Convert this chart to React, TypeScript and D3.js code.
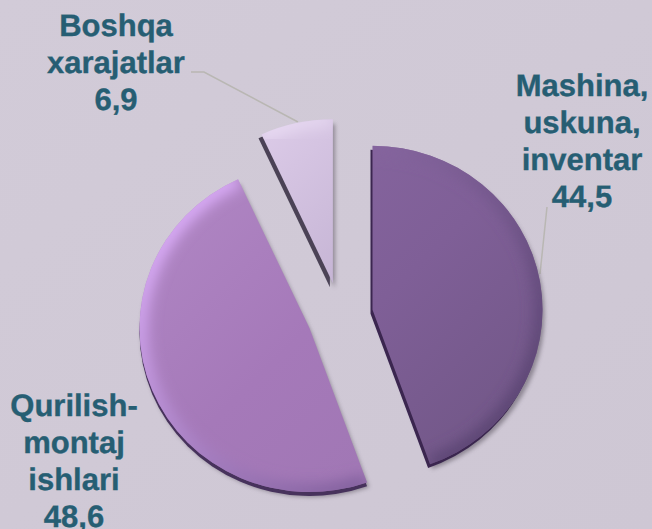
import React from "react";
import * as d3 from "d3";

const categories = ["Mashina, uskuna, inventar", "Qurilish-montaj ishlari", "Boshqa xarajatlar"];
const values = [44.5, 48.6, 6.9];
const valueLabels = ["44,5", "48,6", "6,9"];
const labelLines = [
  ["Mashina,", "uskuna,", "inventar"],
  ["Qurilish-", "montaj", "ishlari"],
  ["Boshqa", "xarajatlar"],
];
const faceColors = [
  ["#86659f", "#7f5f97", "#735889"],
  ["#ae84c2", "#a579b9", "#a077b4"],
  ["#dccbe8", "#c6b5d5", "#bfaed0"],
];
const rimColors = [
  ["#8d6ba6", "#5a4472"],
  ["#dcaefa", "#7a5a96"],
  ["#eadcf4", "#b5a4c6"],
];
const sideColors = ["#3a2750", "#46315c", "#4b4356"];
const sideOffsets = [[-2, 4], [0, 4], [-3, 4]];

const width = 652;
const height = 529;
const cx = 340;
const cy = 315.5;
const radius = 170;
const squash = 0.965;
const explode = 33;
const labelX = [582, 74, 116];
const labelY = [96, 416, 36];
const lineStep = 37;
const leaders = [
  [[547, 207], [540, 274]],
  [],
  [[191, 72], [204, 72], [298, 122]],
];

export default function App() {
  const pie = d3.pie<number>().sort(null).startAngle(0).endAngle(2 * Math.PI);
  const arcs = pie(values);
  const face = d3.arc<d3.PieArcDatum<number>>().innerRadius(0).outerRadius(radius);
  const rim = d3.arc<d3.PieArcDatum<number>>().innerRadius(radius).outerRadius(radius);
  const leader = d3.line();

  return (
    <svg
      width={width}
      height={height}
      style={{ position: "absolute", left: 0, top: 0, fontFamily: "'Liberation Sans', Arial, sans-serif" }}
    >
      <defs>
        <linearGradient id="bg" x1="0" y1="0" x2="1" y2="1">
          <stop offset="0" stopColor="#d2cbd8" />
          <stop offset="1" stopColor="#cec7d4" />
        </linearGradient>
        <filter id="soft" x="-20%" y="-20%" width="140%" height="140%">
          <feGaussianBlur stdDeviation="2" />
        </filter>
        <filter id="edge" x="-5%" y="-5%" width="110%" height="110%">
          <feGaussianBlur stdDeviation="0.6" />
        </filter>
        <filter id="rimBlur" x="-30%" y="-30%" width="160%" height="160%">
          <feGaussianBlur stdDeviation="7" />
        </filter>
        {arcs.map((d, i) => (
          <React.Fragment key={i}>
            <clipPath id={`clip${i}`}>
              <path d={face(d) as string} />
            </clipPath>
            <linearGradient
              id={`face${i}`}
              gradientUnits="userSpaceOnUse"
              x1={-radius * 0.7}
              y1={-radius * 0.7}
              x2={radius * 0.7}
              y2={radius * 0.7}
            >
              <stop offset="0" stopColor={faceColors[i][0]} />
              <stop offset="0.5" stopColor={faceColors[i][1]} />
              <stop offset="1" stopColor={faceColors[i][2]} />
            </linearGradient>
            <linearGradient
              id={`rim${i}`}
              gradientUnits="userSpaceOnUse"
              x1={-radius * 0.7}
              y1={-radius * 0.7}
              x2={radius * 0.7}
              y2={radius * 0.7}
            >
              <stop offset="0" stopColor={rimColors[i][0]} />
              <stop offset="1" stopColor={rimColors[i][1]} />
            </linearGradient>
          </React.Fragment>
        ))}
      </defs>
      <rect width={width} height={height} fill="url(#bg)" />

      {leaders.map((pts, i) =>
        pts.length ? (
          <path
            key={i}
            d={leader(pts as [number, number][]) as string}
            fill="none"
            stroke="#b9b7b3"
            strokeWidth={1.5}
          />
        ) : null
      )}

      {arcs.map((d, i) => {
        const mid = (d.startAngle + d.endAngle) / 2;
        const x = cx + explode * Math.sin(mid);
        const y = cy - explode * Math.cos(mid);
        return (
          <g key={i} transform={`translate(${x},${y}) scale(1,${squash})`}>
            <path d={face(d) as string} transform="translate(2,5)" fill="#56505c" opacity={0.55} filter="url(#soft)" />
            <path
              d={face(d) as string}
              transform={`translate(${sideOffsets[i][0]},${sideOffsets[i][1]})`}
              fill={sideColors[i]}
              filter="url(#edge)"
            />
            <path d={face(d) as string} fill={`url(#face${i})`} />
            <g clipPath={`url(#clip${i})`}>
              <path d={rim(d) as string} fill="none" stroke={`url(#rim${i})`} strokeWidth={16} filter="url(#rimBlur)" />
            </g>
          </g>
        );
      })}

      {categories.map((c, i) => (
        <text
          key={c}
          textAnchor="middle"
          fontSize={31}
          fontWeight="bold"
          fill="#265e73"
          stroke="#265e73"
          strokeWidth={0.35}
          textRendering="geometricPrecision"
        >
          {[...labelLines[i], valueLabels[i]].map((line, j) => (
            <tspan key={j} x={labelX[i]} y={labelY[i] + j * lineStep}>
              {line}
            </tspan>
          ))}
        </text>
      ))}
    </svg>
  );
}
